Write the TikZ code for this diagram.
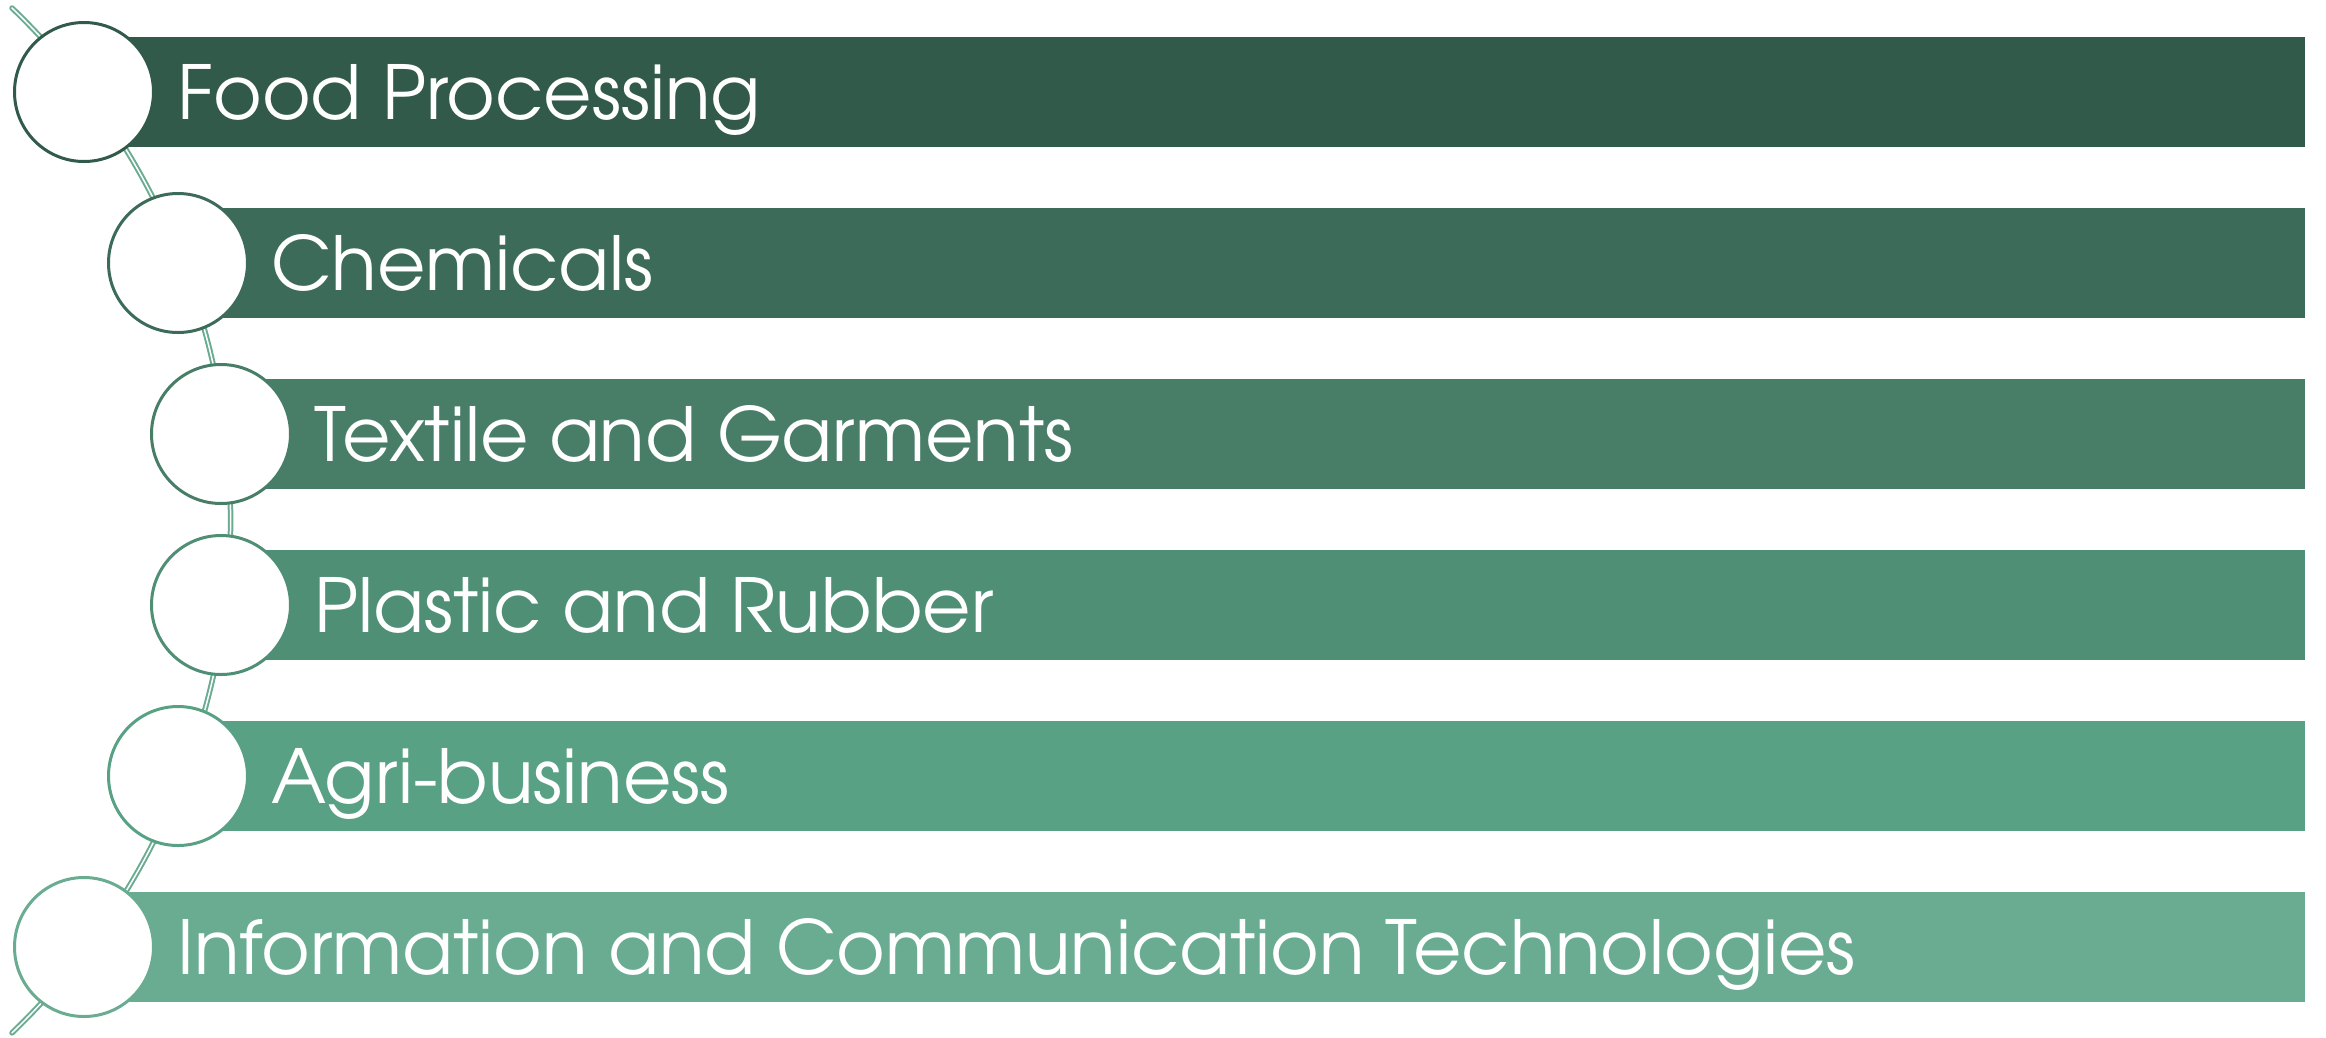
\documentclass[tikz,border=0pt]{standalone}
\usepackage{fontspec}
\setmainfont{TeX Gyre Adventor}
\definecolor{c1}{HTML}{315A4A}
\definecolor{c2}{HTML}{3C6B59}
\definecolor{c3}{HTML}{487E68}
\definecolor{c4}{HTML}{4F8F75}
\definecolor{c5}{HTML}{59A184}
\definecolor{c6}{HTML}{6AAC91}
\definecolor{arccol}{HTML}{6AAC91}
\tikzset{
  bar/.style={fill=#1, draw=none},
  dot/.style={circle, draw=#1, fill=white, line width=3pt, minimum size=139pt, inner sep=0pt},
  label/.style={anchor=base west, inner sep=0pt, text=white, font=\fontsize{74.5}{88}\selectfont},
  spine/.style={draw=arccol, line width=2pt, double=white, double distance=1.5pt, line cap=round}
}
\begin{document}
\begin{tikzpicture}[x=1pt,y=-1pt]
\useasboundingbox (0,0) rectangle (2326,1037);
\coordinate (arcstart) at (12,8);
\draw[spine] (arcstart) arc[start angle=-46.2, end angle=46.2, radius=710];
% rows
\foreach \i/\cx/\cy/\col/\txt in {
  1/84/92/c1/{Food Processing},
  2/178/263/c2/{Chemicals},
  3/221/434/c3/{Textile and Garments},
  4/221/605/c4/{Plastic and Rubber},
  5/178/776/c5/{Agri-business},
  6/84/947/c6/{Information and Communication Technologies}}{
  \fill[bar=\col] (\cx,\cy-55) rectangle (2305,\cy+55);
  \node[dot=\col] (circ\i) at (\cx,\cy) {};
  \node[label] (lab\i) at (\cx+93,\cy+27) {\txt};
}
\end{tikzpicture}
\end{document}
